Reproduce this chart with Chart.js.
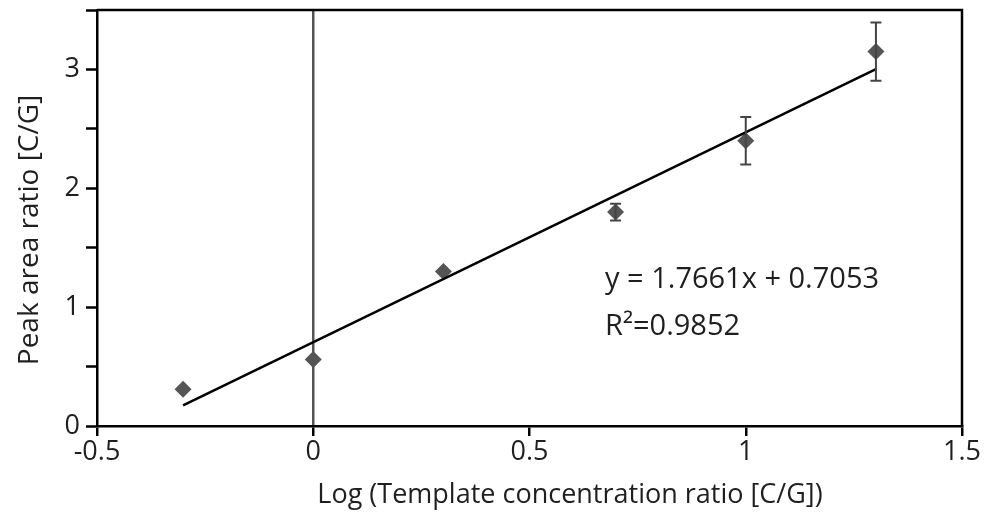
<!DOCTYPE html>
<html>
<head>
<meta charset="utf-8">
<script src="https://cdn.jsdelivr.net/npm/chart.js@4.4.1/dist/chart.umd.min.js"></script>
<style>
  html, body { margin: 0; padding: 0; background: #fff; }
  #wrap { width: 995px; height: 516px; }
</style>
</head>
<body>
<div id="wrap"><canvas id="chart"></canvas></div>
<script>
// log10 of template concentration ratio C/G (0.5, 1, 2, 5, 10, 20)
const logRatio = [-0.301, 0, 0.301, 0.699, 1, 1.301];
const peakRatio = [0.31, 0.56, 1.3, 1.8, 2.4, 3.15];
const peakError = [0, 0, 0, 0.07, 0.2, 0.245];
const fitSlope = 1.7661;
const fitIntercept = 0.7053;
const fitRange = [-0.301, 1.301];
const equationLines = ['y = 1.7661x + 0.7053', 'R²=0.9852'];
const xTitle = 'Log (Template concentration ratio [C/G])';
const yTitle = 'Peak area ratio [C/G]';

const FONT = '"Open Sans", sans-serif';
const TEXT = '#1f1f1f';

const errorBars = {
  id: 'errorBars',
  afterDatasetsDraw(chart) {
    const { ctx, scales: { x, y } } = chart;
    ctx.save();
    ctx.strokeStyle = '#444';
    ctx.lineWidth = 2;
    logRatio.forEach((lx, i) => {
      const e = peakError[i];
      if (!e) return;
      const px = x.getPixelForValue(lx);
      const top = y.getPixelForValue(peakRatio[i] + e);
      const bot = y.getPixelForValue(peakRatio[i] - e);
      ctx.beginPath();
      ctx.moveTo(px, top); ctx.lineTo(px, bot);
      ctx.moveTo(px - 5.5, top); ctx.lineTo(px + 5.5, top);
      ctx.moveTo(px - 5.5, bot); ctx.lineTo(px + 5.5, bot);
      ctx.stroke();
    });
    ctx.restore();
  },
};

// top/right frame, axis titles (off-centre in the original) and the fit equation
const frameAndLabels = {
  id: 'frameAndLabels',
  afterDraw(chart) {
    const { ctx, chartArea: a } = chart;
    ctx.save();
    ctx.strokeStyle = '#000';
    ctx.lineWidth = 2.5;
    ctx.beginPath();
    ctx.moveTo(a.left, a.top);
    ctx.lineTo(a.right, a.top);
    ctx.lineTo(a.right, a.bottom);
    ctx.stroke();

    ctx.fillStyle = TEXT;
    ctx.font = '29px ' + FONT;
    ctx.textAlign = 'left';
    ctx.textBaseline = 'alphabetic';
    ctx.fillText(equationLines[0], 605, 288);
    ctx.fillText(equationLines[1], 605, 335);

    ctx.font = '27px ' + FONT;
    ctx.textAlign = 'center';
    ctx.textBaseline = 'middle';
    ctx.fillText(xTitle, 570, 495);

    ctx.font = '28px ' + FONT;
    ctx.translate(30, 230);
    ctx.rotate(-Math.PI / 2);
    ctx.fillText(yTitle, 0, 0);
    ctx.restore();
  },
};

new Chart(document.getElementById('chart'), {
  type: 'scatter',
  data: {
    datasets: [
      {
        type: 'line',
        label: 'Fit',
        data: fitRange.map((v) => ({ x: v, y: fitSlope * v + fitIntercept })),
        borderColor: '#000',
        borderWidth: 2.5,
        pointRadius: 0,
        fill: false,
      },
      {
        label: 'Peak area ratio',
        data: logRatio.map((v, i) => ({ x: v, y: peakRatio[i] })),
        pointStyle: 'rectRot',
        pointRadius: 8.5,
        pointBackgroundColor: '#555',
        pointBorderWidth: 0,
        borderColor: '#555',
      },
    ],
  },
  options: {
    responsive: true,
    maintainAspectRatio: false,
    animation: false,
    layout: { padding: { top: 10, right: 33, left: 0, bottom: 0 } },
    plugins: { legend: { display: false }, tooltip: { enabled: false } },
    scales: {
      x: {
        type: 'linear',
        min: -0.5,
        max: 1.5,
        afterFit: (s) => { s.height = 90; },
        ticks: {
          stepSize: 0.5,
          color: TEXT,
          font: { family: FONT, size: 27 },
          padding: 0,
          callback: (v) => String(Math.round(v * 10) / 10),
        },
        grid: {
          color: (c) => (c.tick && c.tick.value === 0 ? '#555' : 'rgba(0,0,0,0)'),
          lineWidth: 2.5,
          tickColor: '#000',
          tickLength: 10,
          tickWidth: 2.5,
        },
        border: { color: '#000', width: 2.5 },
      },
      y: {
        min: 0,
        max: 3.5,
        afterFit: (s) => { s.width = 97; s.paddingTop = 0; s.paddingBottom = 0; },
        ticks: {
          stepSize: 0.5,
          color: TEXT,
          font: { family: FONT, size: 27 },
          padding: 6,
          callback: (v) => (Number.isInteger(v) ? v : ''),
        },
        grid: { drawOnChartArea: false, tickColor: '#000', tickLength: 11, tickWidth: 2.5 },
        border: { color: '#000', width: 2.5 },
      },
    },
  },
  plugins: [errorBars, frameAndLabels],
});
</script>
</body>
</html>
